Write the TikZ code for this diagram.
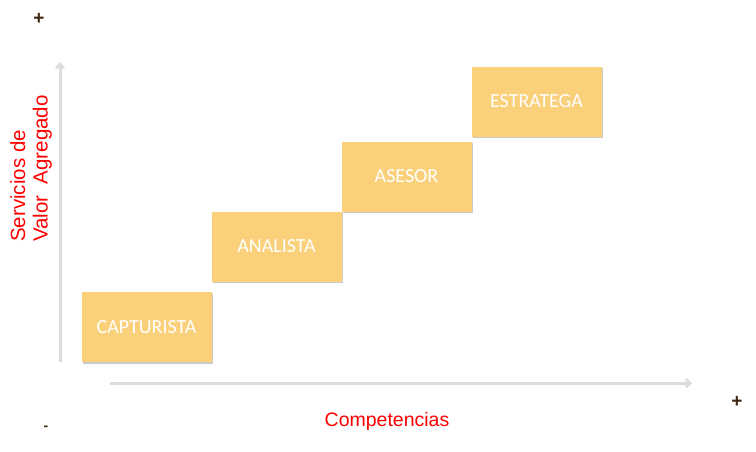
\documentclass[tikz,border=0pt]{standalone}
\usepackage{fontspec}
\setmainfont{Liberation Sans}
\newfontfamily\boxfont{Carlito}
\usetikzlibrary{arrows.meta,shadows}
\definecolor{boxfill}{RGB}{250,208,122}
\definecolor{axisgray}{RGB}{220,220,220}
\definecolor{signbrown}{RGB}{60,38,15}
\definecolor{labred}{RGB}{255,0,0}
\tikzset{
  rolebox/.style={draw=none, fill=boxfill, minimum width=130pt, minimum height=70pt,
    text=white, font=\boxfont\fontsize{20}{22}\selectfont, inner sep=0pt,
    drop shadow={shadow xshift=1.5pt, shadow yshift=-1.5pt, fill=black!35, opacity=0.6}},
  axisline/.style={draw=axisgray, line width=3pt, -{Straight Barb[length=4pt,width=8pt]}},
  sign/.style={text=signbrown, font=\bfseries\fontsize{19}{19}\selectfont, inner sep=0pt},
  lab/.style={text=labred, font=\fontsize{19.5}{22}\selectfont, inner sep=0pt}
}
\begin{document}
\begin{tikzpicture}[x=1pt,y=-1pt]
\useasboundingbox (0,0) rectangle (756,451);
\coordinate (ya) at (60,362);
\coordinate (yb) at (60,62);
\coordinate (xa) at (110,383);
\coordinate (xb) at (692,383);
\draw[axisline] (ya) -- (yb);
\draw[axisline] (xa) -- (xb);
\node[rolebox] (cap) at (146.5,327) {CAPTURISTA};
\node[rolebox] (ana) at (276.5,246.5) {ANALISTA};
\node[rolebox] (ase) at (406.5,176.5) {ASESOR};
\node[rolebox] (est) at (536.5,101.5) {ESTRATEGA};
\node[sign] (p1) at (39,19) {+};
\node[sign] (p2) at (737,402) {+};
\node[sign, font=\bfseries\fontsize{14}{14}\selectfont] (m1) at (46,428) {-};
\node[lab] (comp) at (387,421) {Competencias};
\node[lab, rotate=90, anchor=north west, align=left, font=\fontsize{20.5}{22.5}\selectfont] (ylab) at (10,242) {Servicios de\\Valor\ \ Agregado};
\end{tikzpicture}
\end{document}
